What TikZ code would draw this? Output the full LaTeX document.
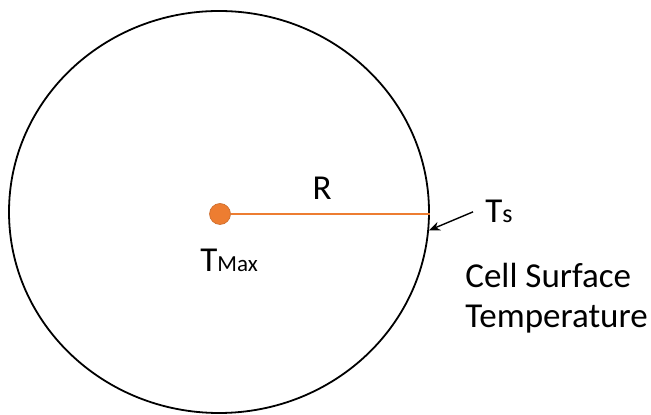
\documentclass[tikz,border=0pt]{standalone}
\usepackage{fontspec}
\setmainfont{Carlito}
\usetikzlibrary{shapes.geometric,arrows.meta}
\definecolor{coreorange}{HTML}{ED7D31}
\tikzset{
  label text/.style={inner sep=0pt, font=\fontsize{17.5}{20}\selectfont},
  sub text/.style={font=\fontsize{10.5}{12}\selectfont}
}
\begin{document}
\begin{tikzpicture}[x=1pt,y=1pt]
\useasboundingbox (0,0) rectangle (325.5,-207.5);
\node[
  draw,
  ellipse,
  line width=0.9pt,
  minimum width=210pt,
  minimum height=201pt,
  inner sep=0pt
] (cell) at (109.5,-106) {};
\node[
  circle,
  fill=coreorange,
  draw=coreorange!85!black,
  line width=0.3pt,
  minimum size=10.5pt,
  inner sep=0pt
] (core) at (110,-107) {};
\draw[coreorange, line width=0.9pt] (core) -- (core -| cell.east);
\node[label text] (radius) at (161,-94) {R};
\node[label text, anchor=base west] (tmax) at (100,-136)
  {T{\fontsize{11.5}{12}\selectfont Max}};
\node[label text, anchor=base west] (ts) at (242.5,-111.5)
  {T{\fontsize{13}{13}\selectfont s}};
\node[label text, anchor=base west] (surface) at (232.5,-144)
  {Cell Surface};
\node[label text, anchor=base west] (temp) at (232.5,-164)
  {Temperature};
\draw[-{Stealth[length=5.5pt,width=4.5pt]}, line width=0.7pt]
  ([xshift=-6pt]ts.west) -- (cell.-5);
\end{tikzpicture}
\end{document}
